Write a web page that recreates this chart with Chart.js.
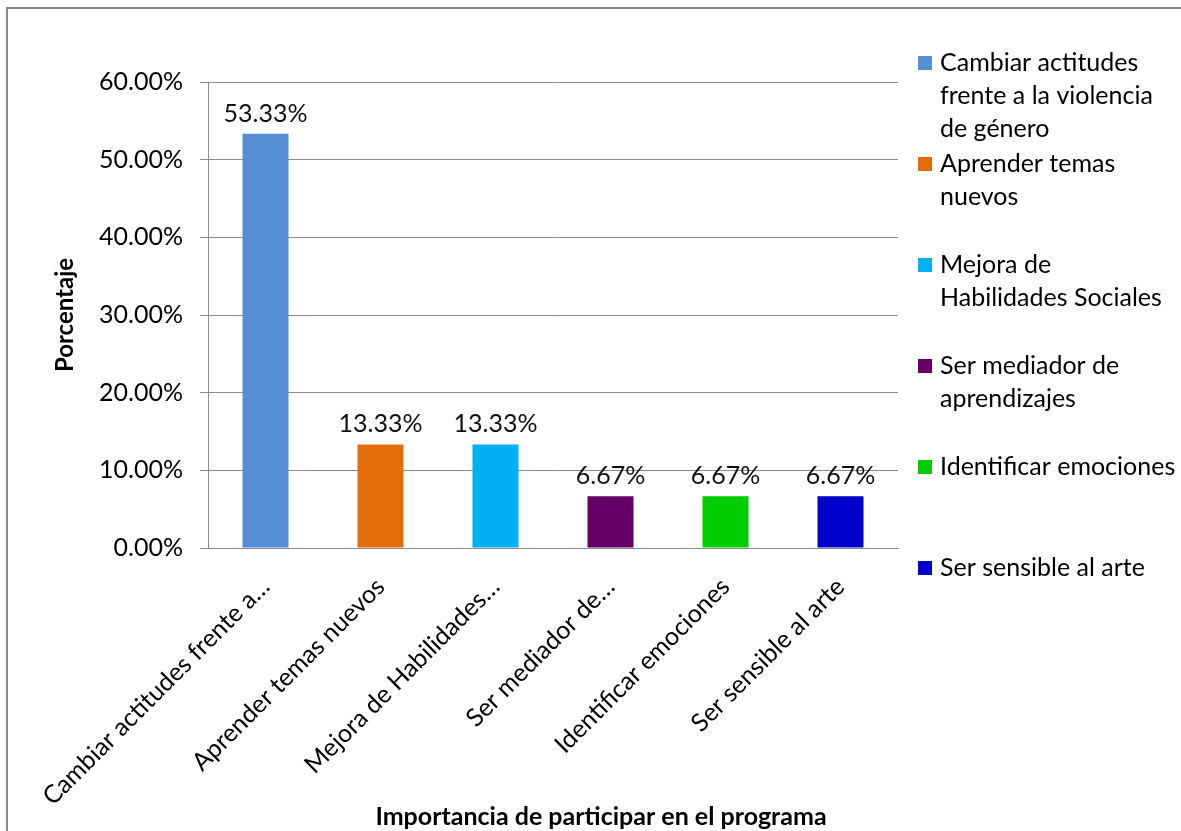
<!DOCTYPE html>
<html>
<head>
<meta charset="utf-8">
<script src="https://cdn.jsdelivr.net/npm/chart.js@4/dist/chart.umd.min.js"></script>
<style>
  html, body { margin: 0; padding: 0; background: #fff; }
  #wrap { width: 1181px; height: 831px; }
</style>
</head>
<body>
<div id="wrap"><canvas id="chart" width="1181" height="831"></canvas></div>
<script>
// Datos
const categories = [
  'Cambiar actitudes frente a la violencia de género',
  'Aprender temas nuevos',
  'Mejora de Habilidades Sociales',
  'Ser mediador de aprendizajes',
  'Identificar emociones',
  'Ser sensible al arte'
];
// Etiquetas recortadas del eje X
const axisLabels = [
  'Cambiar actitudes frente a…',
  'Aprender temas nuevos',
  'Mejora de Habilidades…',
  'Ser mediador de…',
  'Identificar emociones',
  'Ser sensible al arte'
];
// Leyenda en varias líneas
const legendLines = [
  ['Cambiar actitudes', 'frente a la violencia', 'de género'],
  ['Aprender temas', 'nuevos'],
  ['Mejora de', 'Habilidades Sociales'],
  ['Ser mediador de', 'aprendizajes'],
  ['Identificar emociones'],
  ['Ser sensible al arte']
];
const percentages = [53.33, 13.33, 13.33, 6.67, 6.67, 6.67];
const barColors = ['#558ED5', '#E46C0A', '#00B0F0', '#660066', '#00CC00', '#0000CC'];
const yMax = 60;
const yStep = 10;

const FONT = 'Lato, "Open Sans", sans-serif';
const GRID = '#8c8c8c';

// Marco, etiquetas de valor, título del eje X y leyenda
const decorations = {
  id: 'decorations',
  beforeDraw(chart) {
    const ctx = chart.ctx;
    ctx.save();
    ctx.strokeStyle = '#8a8a8a';
    ctx.lineWidth = 2;
    ctx.beginPath();
    ctx.moveTo(7, chart.height);
    ctx.lineTo(7, 8);
    ctx.lineTo(chart.width, 8);
    ctx.stroke();
    ctx.restore();
  },
  afterDatasetsDraw(chart) {
    const ctx = chart.ctx;
    const meta = chart.getDatasetMeta(0);
    ctx.save();
    ctx.font = '25px ' + FONT;
    ctx.fillStyle = '#111';
    ctx.textAlign = 'center';
    ctx.textBaseline = 'alphabetic';
    meta.data.forEach((bar, i) => {
      ctx.fillText(percentages[i].toFixed(2) + '%', bar.x, bar.y - 12);
    });
    ctx.restore();
  },
  afterDraw(chart) {
    const ctx = chart.ctx;
    ctx.save();
    // título del eje X
    ctx.font = 'bold 25px ' + FONT;
    ctx.fillStyle = '#000';
    ctx.textAlign = 'center';
    ctx.textBaseline = 'middle';
    ctx.fillText('Importancia de participar en el programa', 601, 817);

    // leyenda
    const left = chart.chartArea.right + 20;
    const top = 63;
    const step = 101;
    const lineH = 33;
    ctx.font = '25px ' + FONT;
    ctx.textAlign = 'left';
    legendLines.forEach((lines, i) => {
      const y0 = top + i * step;
      ctx.fillStyle = barColors[i];
      ctx.fillRect(left, y0 - 7, 14, 14);
      ctx.fillStyle = '#000';
      lines.forEach((t, j) => ctx.fillText(t, left + 22, y0 + j * lineH));
    });
    ctx.restore();
  }
};

new Chart('chart', {
  type: 'bar',
  data: {
    labels: axisLabels,
    datasets: [{
      label: 'Porcentaje',
      data: percentages,
      backgroundColor: barColors,
      borderWidth: 0,
      barPercentage: 0.8,
      categoryPercentage: 0.5
    }]
  },
  options: {
    responsive: false,
    animation: false,
    layout: { padding: { left: 0, top: 82, right: 283, bottom: 0 } },
    plugins: {
      legend: { display: false },
      tooltip: { enabled: false }
    },
    scales: {
      x: {
        grid: { display: false },
        border: { color: GRID },
        ticks: {
          autoSkip: false,
          minRotation: 45,
          maxRotation: 45,
          padding: 16,
          color: '#000',
          font: { family: FONT, size: 25 }
        },
        afterFit(scale) { scale.height = 283; }
      },
      y: {
        min: 0,
        max: yMax,
        ticks: {
          stepSize: yStep,
          padding: 17,
          color: '#000',
          font: { family: FONT, size: 25 },
          callback: v => v.toFixed(2) + '%'
        },
        grid: { color: GRID, tickLength: 8 },
        border: { color: GRID },
        title: {
          display: true,
          text: 'Porcentaje',
          color: '#000',
          font: { family: FONT, size: 24, weight: 'bold' },
          padding: { top: 51, bottom: 0 }
        },
        afterFit(scale) { scale.width = 208; }
      }
    }
  },
  plugins: [decorations]
});
</script>
</body>
</html>
